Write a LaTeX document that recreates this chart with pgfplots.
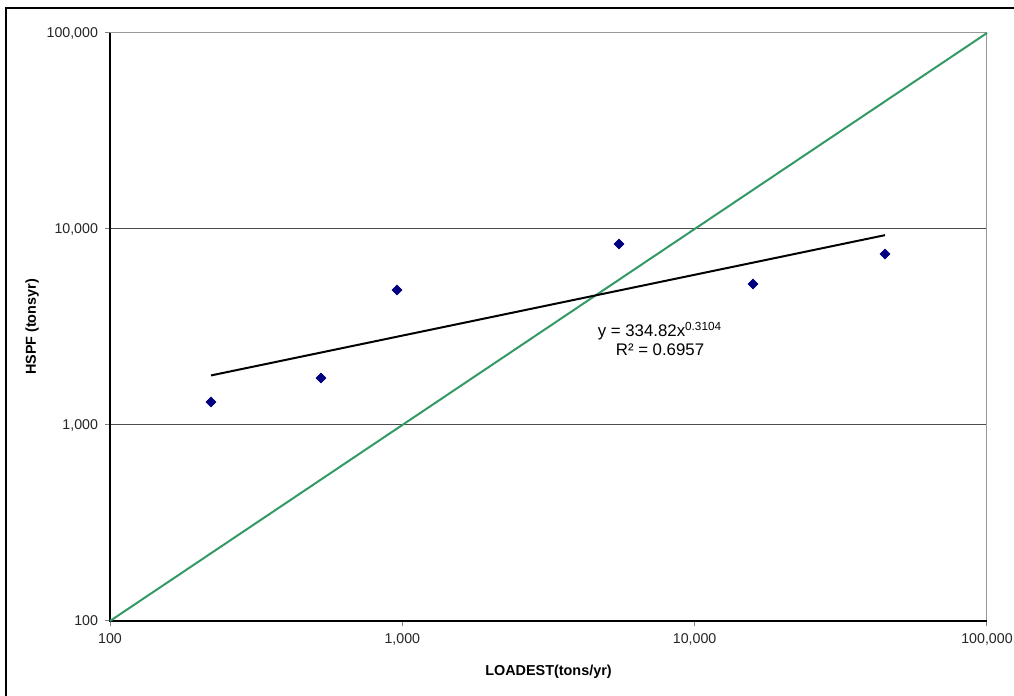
\documentclass[border=0pt]{standalone}
\usepackage{pgfplots}
\pgfplotsset{compat=1.18}
\usepackage{fontspec}
\setmainfont{Liberation Sans}
\definecolor{seagreen}{RGB}{51,153,102}
\definecolor{navypt}{RGB}{0,0,128}
\begin{document}
\begin{tikzpicture}[x=0.5pt,y=0.5pt]
\useasboundingbox (0,0) rectangle (1014,696);
\draw[line width=1pt] (6,0) -- (6,688) -- (1014,688);
\begin{axis}[
  at={(55pt,37.5pt)}, anchor=south west,
  scale only axis, width=438.5pt, height=294pt,
  xmode=log, ymode=log,
  xmin=100, xmax=100000, ymin=100, ymax=100000,
  log basis x=10, log basis y=10,
  xtick={100,1000,10000,100000},
  xticklabels={100,{1,000},{10,000},{100,000}},
  ytick={100,1000,10000,100000},
  yticklabels={100,{1,000},{10,000},{100,000}},
  minor xtick={}, minor ytick={},
  xtick pos=bottom, ytick pos=left,
  tick align=outside,
  major tick length=2.5pt,
  tick style={black!50, line width=0.5pt},
  ymajorgrids, grid style={black!70, line width=0.5pt},
  axis line style={draw=none},
  ticklabel style={font=\fontsize{7.1}{8}\selectfont, text=black!85},
  xticklabel style={yshift=-0.5pt},
  xlabel={LOADEST(tons/yr)},
  ylabel={HSPF (tonsyr)},
  label style={font=\bfseries\fontsize{7.2}{8.5}\selectfont},
  xlabel style={at={(axis description cs:0.5,-0.0867)}, anchor=center},
  ylabel style={at={(axis description cs:-0.0889,0.5)}, anchor=center},
  clip=false,
]
\draw[black!40, line width=0.5pt] (rel axis cs:0,1) -- (rel axis cs:1,1) -- (rel axis cs:1,0);
\draw[black, line width=0.9pt] (rel axis cs:0,1) -- (rel axis cs:0,0) -- (rel axis cs:1,0);
\addplot[seagreen, line width=1pt] coordinates {(100,100) (100000,100000)};
\addplot[black, line width=1pt] coordinates {(221.6,1790) (44780,9301)};
\addplot[only marks, mark=square*, mark size=1.7pt, navypt, mark options={rotate=45, fill=navypt, draw=navypt}]
  coordinates {
  (221.6,1310)
  (527,1737)
  (959,4883)
  (5511,8386)
  (15830,5241)
  (44780,7456)
  };
\node[align=center, font=\fontsize{8.4}{9.3}\selectfont] at (axis cs:7612,2748)
  {y = 334.82x\textsuperscript{0.3104}\\R² = 0.6957};
\end{axis}
\end{tikzpicture}
\end{document}
